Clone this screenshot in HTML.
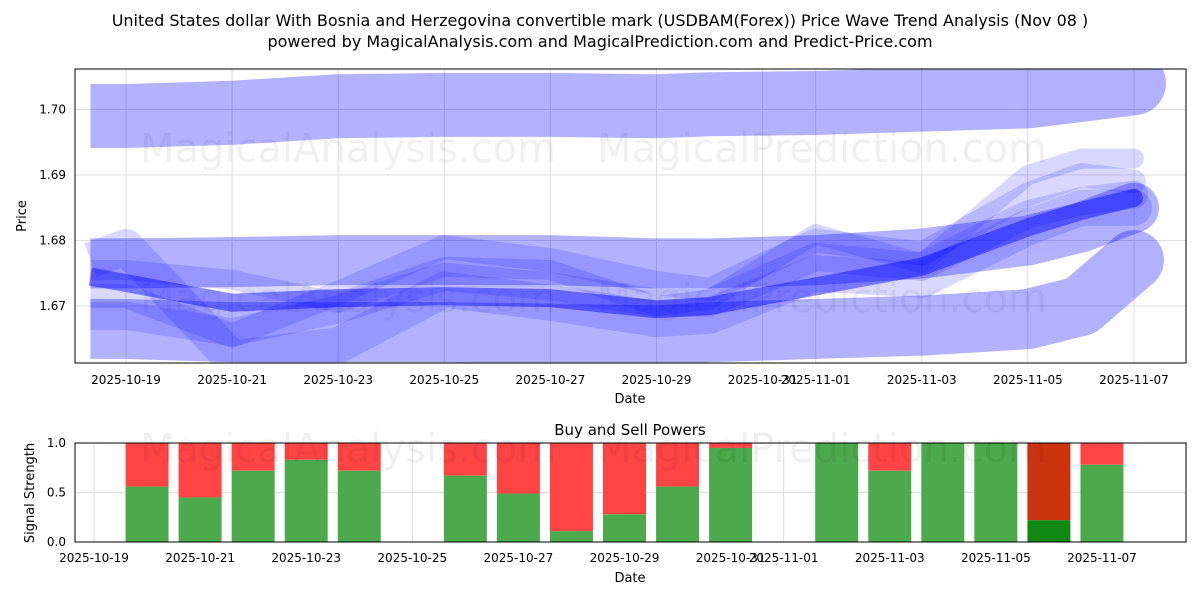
<!DOCTYPE html>
<html><head><meta charset="utf-8"><style>
body{margin:0;background:#fff;font-family:"Liberation Sans","DejaVu Sans",sans-serif}
svg text{font-family:"DejaVu Sans","Liberation Sans",sans-serif}
</style></head><body>
<svg id="c" width="1200" height="600" viewBox="0 0 1200 600">
<text x="600" y="26" text-anchor="middle" font-size="16">United States dollar With Bosnia and Herzegovina convertible mark (USDBAM(Forex)) Price Wave Trend Analysis (Nov 08 )</text>
<text x="600" y="47" text-anchor="middle" font-size="16">powered by MagicalAnalysis.com and MagicalPrediction.com and Predict-Price.com</text>
<g id="top"></g><g id="bot"></g>
</svg>
<script>
// data
const topTickDates=["2025-10-19","2025-10-21","2025-10-23","2025-10-25","2025-10-27","2025-10-29","2025-10-31","2025-11-01","2025-11-03","2025-11-05","2025-11-07"];
const priceTicks=[1.67,1.68,1.69,1.70];
const botTickDates=["2025-10-19","2025-10-21","2025-10-23","2025-10-25","2025-10-27","2025-10-29","2025-10-31","2025-11-01","2025-11-03","2025-11-05","2025-11-07"];
const strengthTicks=[0,0.5,1.0];
const waveDays=[-0.67,0,2,4,6,8,10,11,13,15,17,18,19];
const waveTop=[1.699,1.699,1.6995,1.7005,1.7007,1.7007,1.7005,1.7008,1.701,1.7015,1.702,1.703,1.704];
const waveMid=[1.6765,1.6765,1.6767,1.677,1.677,1.677,1.6765,1.6765,1.677,1.678,1.680,1.682,1.685];
const waveLow=[1.6665,1.6665,1.666,1.666,1.666,1.6658,1.6655,1.666,1.6665,1.667,1.668,1.670,1.677];
const waveDark=[1.6745,1.6735,1.6705,1.6712,1.6715,1.6712,1.6695,1.670,1.673,1.676,1.682,1.6845,1.6865];
const waveA=[1.6755,1.6755,1.674,1.6705,1.676,1.6755,1.670,1.671,1.681,1.6765,1.690,1.6925,1.6925];
const waveB=[1.6715,1.6715,1.6655,1.672,1.679,1.677,1.6735,1.6725,1.680,1.678,1.687,1.690,1.689];
const waveC=[1.6685,1.6685,1.666,1.6695,1.6745,1.673,1.6705,1.6705,1.6775,1.676,1.684,1.686,1.687];
const waveD=[1.677,1.679,1.662,1.664,1.6725,1.6705,1.668,1.6685,1.675,1.674,1.682,1.685,1.685];
const barDays=[1,2,3,4,5,7,8,9,10,11,12,14,15,16,17,18,19];
const buyVals=[0.56,0.45,0.72,0.83,0.72,0.67,0.49,0.11,0.28,0.56,0.95,1.0,0.72,1.0,1.0,0.22,0.78];
const NS='http://www.w3.org/2000/svg';
function mk(p,t,a){const e=document.createElementNS(NS,t);for(const k in a)e.setAttribute(k,a[k]);p.appendChild(e);return e;}
function dayOf(s){const d=new Date(s+"T00:00:00Z");return (d-new Date("2025-10-19T00:00:00Z"))/864e5;}
const tx=d=>126+d*53.05, ty=v=>306-(v-1.67)*6550;
const bx=d=>94+d*53.05, by=v=>542-v*99;
const T=document.getElementById('top'),B=document.getElementById('bot');
for(const s of topTickDates){const x=tx(dayOf(s));mk(T,'line',{x1:x,x2:x,y1:69,y2:363,stroke:'#ddd','stroke-width':1});
const l=mk(T,'text',{x:x,y:384,'text-anchor':'middle','font-size':12});l.textContent=s;}
for(const v of priceTicks){const y=ty(v);mk(T,'line',{x1:75,x2:1186,y1:y,y2:y,stroke:'#ddd'});
const l=mk(T,'text',{x:66,y:y+4,'text-anchor':'end','font-size':12});l.textContent=v.toFixed(2);}
[[348,162],[822,162],[348,312],[822,312]].forEach((p,i)=>{const w=mk(T,'text',{x:p[0],y:p[1],'text-anchor':'middle','font-size':40,fill:'#000','fill-opacity':0.06});w.textContent=i%2?'MagicalPrediction.com':'MagicalAnalysis.com';});
const cp=mk(T,'clipPath',{id:'cl'});mk(cp,'rect',{x:75,y:69,width:1111,height:294});
const G=mk(T,'g',{'clip-path':'url(#cl)'});
function wave(arr,w,op,name){const pts=arr.map((v,i)=>tx(waveDays[i])+','+ty(v)).join(' ');
const g=mk(G,'g',{opacity:op});
const p=mk(g,'polyline',{points:pts,fill:'none',stroke:'#0000ff','stroke-width':w,'stroke-linecap':'butt','stroke-linejoin':'round'});

const n=arr.length-1;mk(g,'circle',{cx:tx(waveDays[n]),cy:ty(arr[n]),r:w/2,fill:'#0000ff'});}
wave(waveTop,64,0.3,'wave-top');wave(waveMid,50,0.3,'wave-mid');wave(waveLow,60,0.3,'wave-low');
wave(waveD,36,0.15,'wave-d');wave(waveC,28,0.15,'wave-c');wave(waveB,24,0.15,'wave-b');wave(waveA,20,0.15,'wave-a');
wave(waveDark,18,0.45,'wave-dark');
mk(T,'rect',{x:75,y:69,width:1111,height:294,fill:'none',stroke:'#000'});
let t=mk(T,'text',{x:630,y:403,'text-anchor':'middle','font-size':13});t.textContent='Date';
t=mk(T,'text',{x:26,y:216,'text-anchor':'middle','font-size':13,transform:'rotate(-90 26 216)'});t.textContent='Price';
t=mk(B,'text',{x:630,y:435,'text-anchor':'middle','font-size':15});t.textContent='Buy and Sell Powers';
for(const s of botTickDates){const x=bx(dayOf(s));mk(B,'line',{x1:x,x2:x,y1:443,y2:542,stroke:'#ddd'});
const l=mk(B,'text',{x:x,y:562,'text-anchor':'middle','font-size':12});l.textContent=s;}
for(const v of strengthTicks){const y=by(v);mk(B,'line',{x1:75,x2:1186,y1:y,y2:y,stroke:'#ddd'});
const l=mk(B,'text',{x:66,y:y+4,'text-anchor':'end','font-size':12});l.textContent=v.toFixed(1);}
barDays.forEach((d,i)=>{const v=buyVals[i],x=bx(d)-21.5,dark=(d===18);
const r=mk(B,'rect',{x:x,y:by(1),width:43,height:by(v)-by(1),fill:dark?'#cc3311':'#ff4444'});

const g=mk(B,'rect',{x:x,y:by(v),width:43,height:by(0)-by(v),fill:dark?'#118811':'#4caa4c'});
});
[[348,462],[822,462]].forEach((p,i)=>{const w=mk(B,'text',{x:p[0],y:p[1],'text-anchor':'middle','font-size':40,fill:'#000','fill-opacity':0.06});w.textContent=i?'MagicalPrediction.com':'MagicalAnalysis.com';});
mk(B,'rect',{x:75,y:443,width:1111,height:99,fill:'none',stroke:'#000'});
t=mk(B,'text',{x:630,y:582,'text-anchor':'middle','font-size':13});t.textContent='Date';
t=mk(B,'text',{x:34,y:493,'text-anchor':'middle','font-size':13,transform:'rotate(-90 34 493)'});t.textContent='Signal Strength';
</script>
</body></html>
